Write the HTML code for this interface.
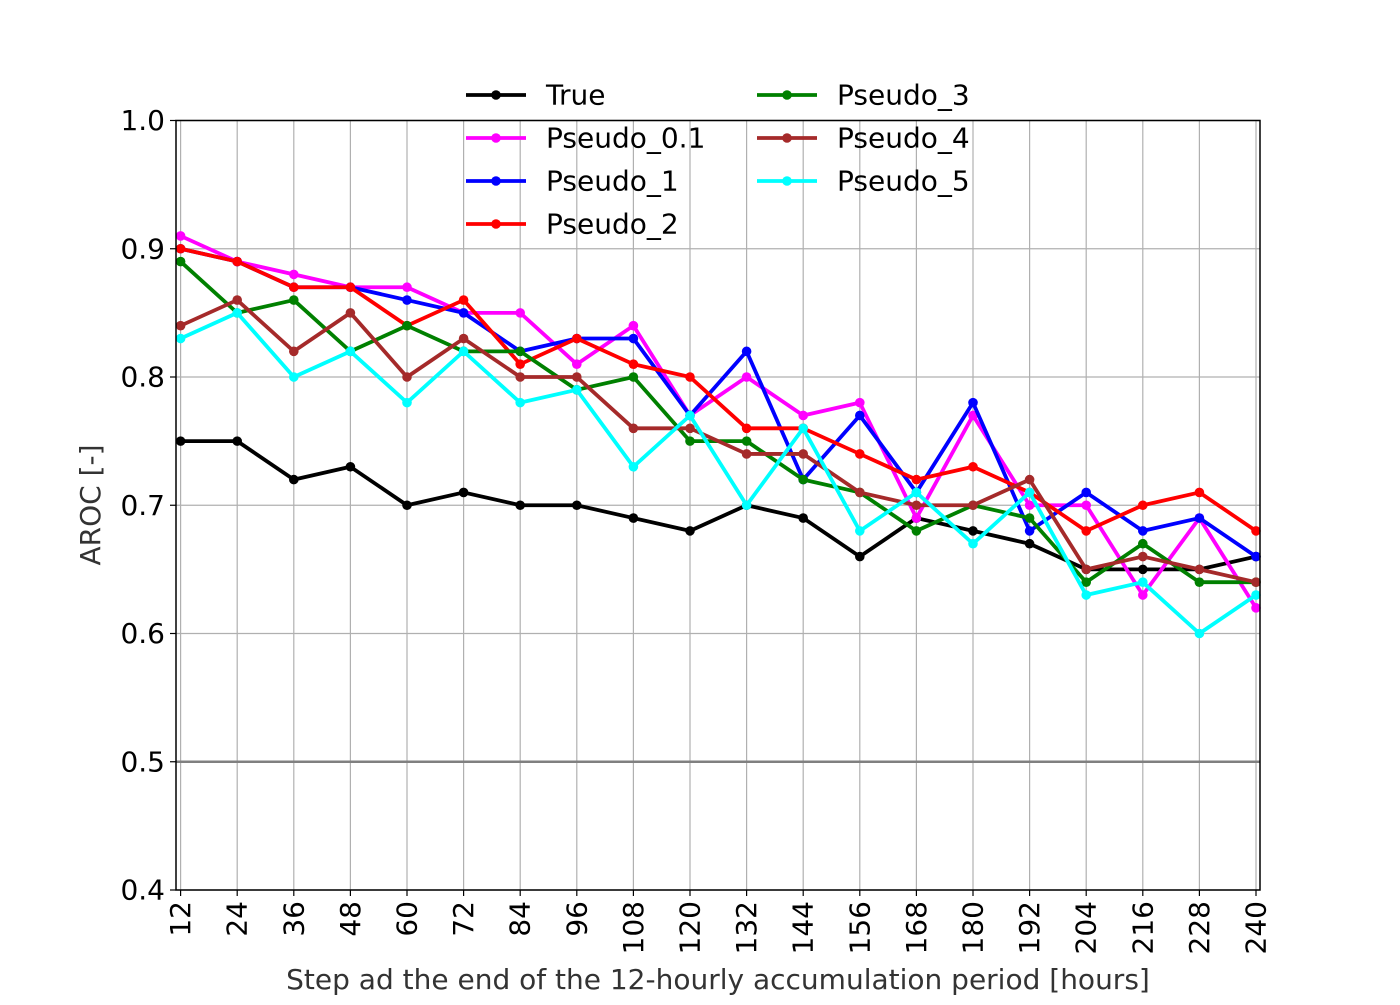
<!DOCTYPE html>
<html><head><meta charset="utf-8"><style>
html,body{margin:0;padding:0;background:#fff;}
svg text{font-family:"DejaVu Sans","Liberation Sans",sans-serif;}
</style></head><body>
<svg id="chart" width="1400" height="1000" xmlns="http://www.w3.org/2000/svg">
<g id="grid"></g>
<g id="series"></g>
<g id="axes"></g>
<g id="legend"></g>
</svg>
<script>
const steps = [12,24,36,48,60,72,84,96,108,120,132,144,156,168,180,192,204,216,228,240];
const yTicks = [0.4,0.5,0.6,0.7,0.8,0.9,1.0];
const yTickLabels = ["0.4","0.5","0.6","0.7","0.8","0.9","1.0"];
const seriesNames = ["True","Pseudo_0.1","Pseudo_1","Pseudo_2","Pseudo_3","Pseudo_4","Pseudo_5"];
const seriesColors = ["#000000","#ff00ff","#0000ff","#ff0000","#008000","#a52a2a","#00ffff"];
const valTrue = [.75,.75,.72,.73,.70,.71,.70,.70,.69,.68,.70,.69,.66,.69,.68,.67,.65,.65,.65,.66];
const valP01 = [.91,.89,.88,.87,.87,.85,.85,.81,.84,.77,.80,.77,.78,.69,.77,.70,.70,.63,.69,.62];
const valP1 = [.90,.89,.87,.87,.86,.85,.82,.83,.83,.77,.82,.72,.77,.71,.78,.68,.71,.68,.69,.66];
const valP2 = [.90,.89,.87,.87,.84,.86,.81,.83,.81,.80,.76,.76,.74,.72,.73,.71,.68,.70,.71,.68];
const valP3 = [.89,.85,.86,.82,.84,.82,.82,.79,.80,.75,.75,.72,.71,.68,.70,.69,.64,.67,.64,.64];
const valP4 = [.84,.86,.82,.85,.80,.83,.80,.80,.76,.76,.74,.74,.71,.70,.70,.72,.65,.66,.65,.64];
const valP5 = [.83,.85,.80,.82,.78,.82,.78,.79,.73,.77,.70,.76,.68,.71,.67,.71,.63,.64,.60,.63];
const allValues = [valTrue,valP01,valP1,valP2,valP3,valP4,valP5];

const NS="http://www.w3.org/2000/svg";
const L=176,R=1260,T=120.5,B=890;
const x0=180.6,x1=1256;
const FS=28;
function xs(v){return x0+(v-steps[0])/(steps[steps.length-1]-steps[0])*(x1-x0);}
function ys(v){return B-(v-0.4)/0.6*(B-T);}
function mk(tag,attrs,parent){const e=document.createElementNS(NS,tag);for(const k in attrs)e.setAttribute(k,attrs[k]);parent.appendChild(e);return e;}
const grid=document.getElementById('grid'),axes=document.getElementById('axes'),ser=document.getElementById('series'),leg=document.getElementById('legend');

steps.forEach((s,i)=>{
  const g=mk('line',{x1:xs(s),x2:xs(s),y1:T,y2:B,stroke:'#b0b0b0','stroke-width':1.2},grid);
  
  
  const t=mk('line',{x1:xs(s),x2:xs(s),y1:B,y2:B+6,stroke:'#000','stroke-width':1.2},axes);
  
  
  const lb=mk('text',{x:0,y:0,'font-size':FS,'text-anchor':'end','dominant-baseline':'central',transform:`translate(${xs(s)},${B+11}) rotate(-90)`,fill:'#000'},axes);
  lb.textContent=s;
  
  
});
yTicks.forEach((v,i)=>{
  const g=mk('line',{x1:L,x2:R,y1:ys(v),y2:ys(v),stroke:'#b0b0b0','stroke-width':1.2},grid);
  
  
  const t=mk('line',{x1:L-6,x2:L,y1:ys(v),y2:ys(v),stroke:'#000','stroke-width':1.2},axes);
  
  
  const lb=mk('text',{x:L-11,y:ys(v),'font-size':FS,'text-anchor':'end','dominant-baseline':'central',fill:'#000'},axes);
  lb.textContent=yTickLabels[i];
  
  
});
const ref=mk('line',{x1:L,x2:R,y1:ys(0.5),y2:ys(0.5),stroke:'#808080','stroke-width':2.6},grid);


const frame=mk('rect',{x:L,y:T,width:R-L,height:B-T,fill:'none',stroke:'#000','stroke-width':1.5},axes);


const yl=mk('text',{x:0,y:0,'font-size':FS,'text-anchor':'middle',fill:'#333',transform:`translate(100,505) rotate(-90)`},axes);
yl.textContent='AROC [-]';


const xl=mk('text',{x:718,y:989,'font-size':FS,'text-anchor':'middle',fill:'#333'},axes);
xl.textContent='Step ad the end of the 12-hourly accumulation period [hours]';



allValues.forEach((vals,si)=>{
  const g=mk('g',{},ser);
  
  
  const pts=vals.map((v,i)=>xs(steps[i])+','+ys(v)).join(' ');
  const pl=mk('polyline',{points:pts,fill:'none',stroke:seriesColors[si],'stroke-width':3.8,'stroke-linejoin':'round'},g);
  
  
  vals.forEach((v,i)=>{
    const c=mk('circle',{cx:xs(steps[i]),cy:ys(v),r:4.8,fill:seriesColors[si]},g);
    
    
  });
});

seriesNames.forEach((n,i)=>{
  const col=i<4?0:1, row=i<4?i:i-4;
  const lx=col?757:466, ly=95+row*43;
  const g=mk('g',{},leg);
  
  
  mk('line',{x1:lx,x2:lx+60,y1:ly,y2:ly,stroke:seriesColors[i],'stroke-width':3.8},g);
  mk('circle',{cx:lx+30,cy:ly,r:4.8,fill:seriesColors[i]},g);
  const t=mk('text',{x:lx+80,y:ly,'font-size':FS,'dominant-baseline':'central',fill:'#000'},g);
  t.textContent=n;
});
</script>
</body></html>
